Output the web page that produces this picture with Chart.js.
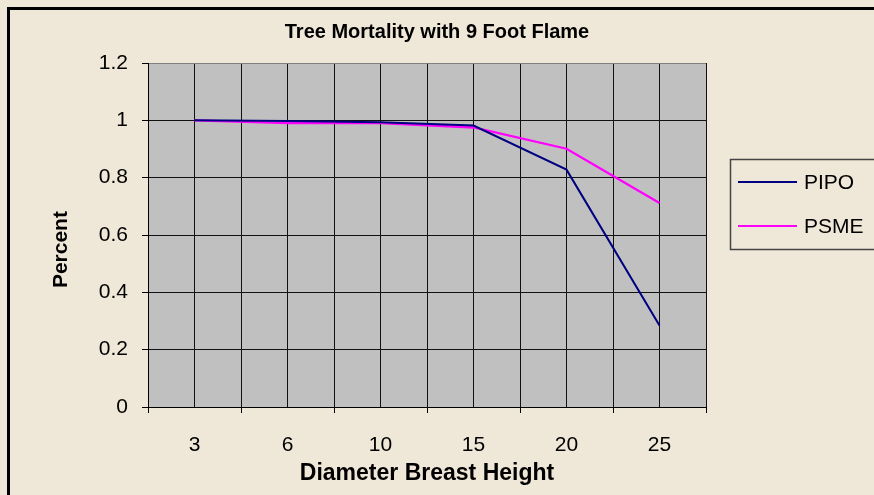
<!DOCTYPE html>
<html lang="en">
<head>
  <meta charset="UTF-8" />
  <title>Tree Mortality</title>
  <script src="https://cdn.jsdelivr.net/npm/chart.js@4.4.1/dist/chart.umd.min.js"></script>
  <style>
    body { margin: 0; background: #f0e8d8; }
    canvas { display: block; }
  </style>
</head>
<body>
  <canvas id="chart" width="874" height="495"></canvas>

  <script>
    // diameter classes (inches) and mortality fraction per species
    const dbh = ['3', '6', '10', '15', '20', '25'];
    const pipo = [1.0, 0.998, 0.993, 0.982, 0.828, 0.284];
    const psme = [1.0, 0.99, 0.99, 0.975, 0.901, 0.712];
    const yTicks = [0, 0.2, 0.4, 0.6, 0.8, 1, 1.2];

    const bg = '#efe7d7';
    const font = 'Arial, "Liberation Sans", sans-serif';

    // paper background, outer frame and the grey plot area
    const backdrop = {
      id: 'backdrop',
      beforeDraw(chart) {
        const c = chart.ctx;
        const a = chart.chartArea;
        c.save();
        c.fillStyle = bg;
        c.fillRect(0, 0, chart.width, chart.height);
        c.fillStyle = '#000';
        c.fillRect(7, 7, chart.width - 7, 3);
        c.fillRect(7, 7, 3, chart.height - 7);
        c.fillStyle = '#c0c0c0';
        c.fillRect(a.left, a.top, a.right - a.left, a.bottom - a.top);
        c.restore();
      }
    };

    // boxed legend to the right of the plot
    const sideLegend = {
      id: 'sideLegend',
      afterDraw(chart) {
        const c = chart.ctx;
        c.save();
        c.strokeStyle = '#444';
        c.lineWidth = 1.5;
        c.strokeRect(730.5, 159.5, 160, 90);
        c.font = '21px ' + font;
        c.textBaseline = 'middle';
        c.fillStyle = '#000';
        chart.data.datasets.forEach((ds, i) => {
          const y = 182 + i * 44;
          c.strokeStyle = ds.borderColor;
          c.lineWidth = 2;
          c.beginPath();
          c.moveTo(738, y);
          c.lineTo(797, y);
          c.stroke();
          c.fillText(ds.label, 804, y + 1);
        });
        c.restore();
      }
    };

    const ctx = document.getElementById('chart');
    const myChart = new Chart(ctx, {
      type: 'line',
      data: {
        labels: dbh,
        datasets: [
          { label: 'PIPO', data: pipo, borderColor: '#000080', backgroundColor: '#000080', borderWidth: 2, pointRadius: 0, tension: 0 },
          { label: 'PSME', data: psme, borderColor: '#ff00ff', backgroundColor: '#ff00ff', borderWidth: 2.3, pointRadius: 0, tension: 0 }
        ]
      },
      options: {
        responsive: false,
        animation: false,
        layout: { padding: 0 },
        plugins: {
          legend: { display: false },
          tooltip: { enabled: false },
          title: {
            display: true,
            text: 'Tree Mortality with 9 Foot Flame',
            color: '#000',
            font: { family: font, size: 20, weight: 'bold' },
            padding: { top: 20, bottom: 19 }
          }
        },
        scales: {
          x: {
            type: 'category',
            offset: true,
            afterFit: s => { s.height = 88; },
            grid: {
              offset: true,
              lineWidth: 1,
              color: c => c.index === dbh.length ? '#808080' : '#111',
              tickColor: '#000',
              tickLength: 6
            },
            border: { color: '#000', width: 1 },
            ticks: {
              color: '#000',
              padding: 20,
              maxRotation: 0,
              font: { family: font, size: 21 }
            },
            title: {
              display: true,
              text: 'Diameter Breast Height',
              color: '#000',
              font: { family: font, size: 23, weight: 'bold' },
              padding: { top: 0, bottom: 8 }
            }
          },
          // second category axis only to draw the mid-category grid lines
          xMid: {
            type: 'category',
            position: 'top',
            offset: true,
            afterFit: s => { s.height = 0; },
            grid: { offset: false, color: '#111', lineWidth: 1, drawTicks: false },
            border: { display: false },
            ticks: { display: false }
          },
          y: {
            min: 0,
            max: 1.2,
            afterFit: s => { s.width = 148; },
            afterBuildTicks: s => { s.ticks = yTicks.map(v => ({ value: v })); },
            grid: {
              lineWidth: 1,
              color: c => c.tick && c.tick.value === 1.2 ? '#808080' : '#111',
              tickColor: '#000',
              tickLength: 6
            },
            border: { color: '#000', width: 1 },
            ticks: {
              color: '#000',
              padding: 14,
              font: { family: font, size: 21 },
              callback: v => String(Math.round(v * 10) / 10)
            },
            title: {
              display: true,
              // trailing spaces push the word a little below the axis middle
              text: 'Percent     ',
              color: '#000',
              font: { family: font, size: 21, weight: 'bold' },
              padding: { top: 49, bottom: 0 }
            }
          },
          // empty right axis that reserves room for the legend
          ySpace: {
            position: 'right',
            afterFit: s => { s.width = 168; },
            grid: { display: false },
            border: { display: false },
            ticks: { display: false }
          }
        }
      },
      plugins: [backdrop, sideLegend]
    });
  </script>
</body>
</html>
